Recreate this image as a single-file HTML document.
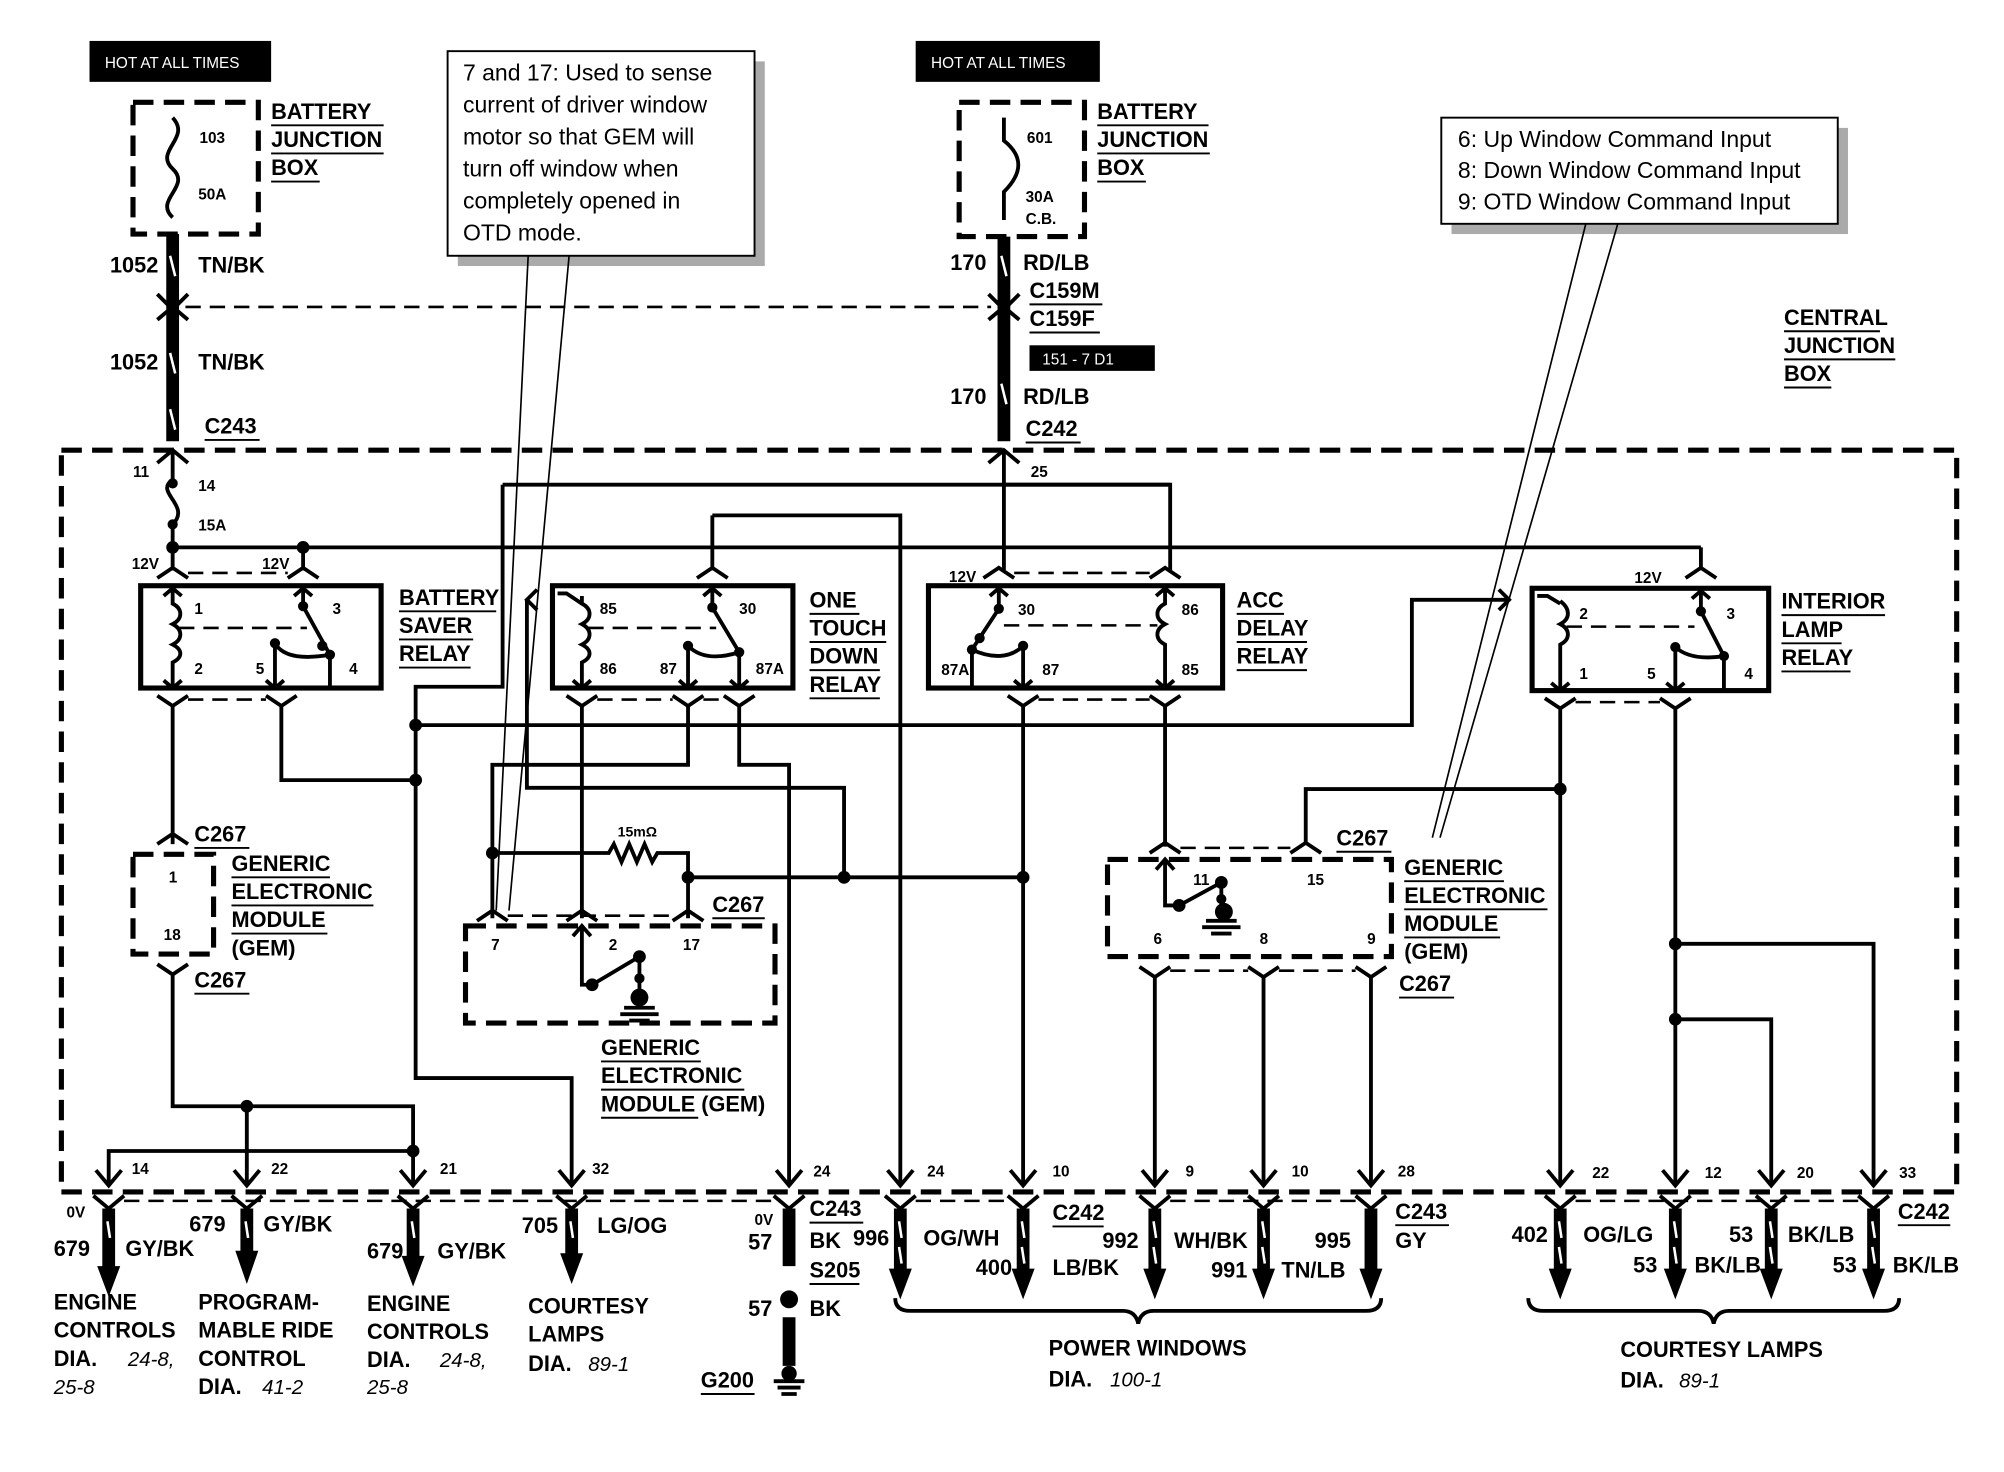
<!DOCTYPE html>
<html><head><meta charset="utf-8"><style>
html,body{margin:0;padding:0;background:#fff}
svg{display:block}
text{font-family:"Liberation Sans",Arial,sans-serif;fill:#000}
.b{font-weight:bold;font-size:17px}
.s{font-weight:bold;font-size:12px}
.n{font-size:18px}
.i{font-style:italic;font-size:16px}
.w{stroke:#000;stroke-width:3;fill:none}
.t{stroke:#000;stroke-width:10;fill:none}
.d{stroke:#000;stroke-width:4;fill:none;stroke-dasharray:16 8}
.dl{stroke:#000;stroke-width:3;fill:none;stroke-dasharray:12 7}
.u{stroke:#000;stroke-width:1.5}
</style></head><body>
<svg width="2004" height="1472" viewBox="0 0 1567 1151" preserveAspectRatio="none" xmlns="http://www.w3.org/2000/svg">
<rect width="1567" height="1151" fill="#fff"/>

<!-- HOT AT ALL TIMES left -->
<rect x="70" y="32" width="142" height="32" fill="#000"/>
<text x="82" y="53" style="font-size:12px;fill:#fff">HOT AT ALL TIMES</text>
<rect x="104" y="80" width="98" height="103" class="d"/>
<path class="w" d="M135,92 C150,108 120,118 135,132 C150,146 120,156 135,170"/>
<text x="156" y="112" class="s">103</text><text x="155" y="156" class="s">50A</text>
<line class="t" x1="135" y1="183" x2="135" y2="345"/>
<path class="w" d="M123,230 L135,242 L147,230 M123,250 L135,240 L147,250"/>
<line stroke="#fff" stroke-width="2" x1="133" y1="200" x2="137" y2="216"/>
<line stroke="#fff" stroke-width="2" x1="133" y1="276" x2="137" y2="292"/>
<line stroke="#fff" stroke-width="2" x1="133" y1="320" x2="137" y2="336"/>
<text x="86" y="213" class="b">1052</text><text x="155" y="213" class="b">TN/BK</text>
<text x="86" y="289" class="b">1052</text><text x="155" y="289" class="b">TN/BK</text>
<text x="160" y="339" class="b">C243</text><line class="u" x1="160" y1="344" x2="203" y2="344"/>
<text x="212" y="93" class="b">BATTERY</text><line class="u" x1="212" y1="98" x2="300" y2="98"/>
<text x="212" y="115" class="b">JUNCTION</text><line class="u" x1="212" y1="120" x2="300" y2="120"/>
<text x="212" y="137" class="b">BOX</text><line class="u" x1="212" y1="142" x2="250" y2="142"/>
<line class="dl" x1="145" y1="240" x2="775" y2="240" style="stroke-width:2"/>

<!-- HOT AT ALL TIMES right -->
<rect x="716" y="32" width="144" height="32" fill="#000"/>
<text x="728" y="53" style="font-size:12px;fill:#fff">HOT AT ALL TIMES</text>
<rect x="750" y="80" width="98" height="105" class="d"/>
<path class="w" d="M785,92 L785,110 C800,122 800,135 785,150 L785,172"/>
<text x="803" y="112" class="s">601</text><text x="802" y="158" class="s">30A</text><text x="802" y="175" class="s">C.B.</text>
<line class="t" x1="785" y1="185" x2="785" y2="345"/>
<path class="w" d="M773,230 L785,242 L797,230 M773,250 L785,240 L797,250"/>
<line stroke="#fff" stroke-width="2" x1="783" y1="200" x2="787" y2="216"/>
<line stroke="#fff" stroke-width="2" x1="783" y1="300" x2="787" y2="316"/>
<text x="743" y="211" class="b">170</text><text x="800" y="211" class="b">RD/LB</text>
<text x="805" y="233" class="b">C159M</text><line class="u" x1="805" y1="238" x2="862" y2="238"/>
<text x="805" y="255" class="b">C159F</text><line class="u" x1="805" y1="260" x2="860" y2="260"/>
<rect x="805" y="270" width="98" height="20" fill="#000"/>
<text x="815" y="285" style="font-size:12px;fill:#fff">151 - 7 D1</text>
<text x="743" y="316" class="b">170</text><text x="800" y="316" class="b">RD/LB</text>
<text x="802" y="341" class="b">C242</text><line class="u" x1="802" y1="346" x2="845" y2="346"/>
<text x="858" y="93" class="b">BATTERY</text><line class="u" x1="858" y1="98" x2="945" y2="98"/>
<text x="858" y="115" class="b">JUNCTION</text><line class="u" x1="858" y1="120" x2="946" y2="120"/>
<text x="858" y="137" class="b">BOX</text><line class="u" x1="858" y1="142" x2="896" y2="142"/>

<!-- callout 1 -->
<rect x="358" y="48" width="240" height="160" fill="#aaa"/>
<rect x="350" y="40" width="240" height="160" fill="#fff" stroke="#000" stroke-width="1.5"/>
<text x="362" y="63" class="n">7 and 17: Used to sense</text>
<text x="362" y="88" class="n">current of driver window</text>
<text x="362" y="113" class="n">motor so that GEM will</text>
<text x="362" y="138" class="n">turn off window when</text>
<text x="362" y="163" class="n">completely opened in</text>
<text x="362" y="188" class="n">OTD mode.</text>
<path d="M413,200 L388,712 M445,200 L398,712" stroke="#000" stroke-width="1.3" fill="none"/>

<!-- callout 2 -->
<rect x="1135" y="100" width="310" height="83" fill="#aaa"/>
<rect x="1127" y="92" width="310" height="83" fill="#fff" stroke="#000" stroke-width="1.5"/>
<text x="1140" y="115" class="n">6: Up Window Command Input</text>
<text x="1140" y="139" class="n">8: Down Window Command Input</text>
<text x="1140" y="164" class="n">9: OTD Window Command Input</text>
<path d="M1240,175 L1120,655 M1265,175 L1126,655" stroke="#000" stroke-width="1.3" fill="none"/>

<!-- central junction box -->
<text x="1395" y="254" class="b">CENTRAL</text><line class="u" x1="1395" y1="259" x2="1470" y2="259"/>
<text x="1395" y="276" class="b">JUNCTION</text><line class="u" x1="1395" y1="281" x2="1482" y2="281"/>
<text x="1395" y="298" class="b">BOX</text><line class="u" x1="1395" y1="303" x2="1432" y2="303"/>
<rect x="48" y="352" width="1482" height="580" class="d"/>

<!-- left fuse & bus -->
<path class="w" d="M123,362 L135,352 L147,362 M135,352 L135,375 C120,385 150,395 135,410 L135,446"/>
<circle cx="135" cy="378" r="4"/><circle cx="135" cy="410" r="4"/>
<text x="104" y="373" class="s">11</text><text x="155" y="384" class="s">14</text><text x="155" y="415" class="s">15A</text>
<line class="w" x1="135" y1="428" x2="1330" y2="428"/>
<circle cx="135" cy="428" r="5"/><circle cx="237" cy="428" r="5"/>
<line class="w" x1="237" y1="428" x2="237" y2="446"/>
<path class="w" d="M123,452 L135,444 L147,452 M225,452 L237,444 L249,452"/>
<line class="dl" x1="147" y1="448" x2="225" y2="448" style="stroke-width:2"/>
<text x="103" y="445" class="s">12V</text><text x="205" y="445" class="s">12V</text>

<!-- battery saver relay -->
<rect x="110" y="458" width="188" height="80" fill="none" stroke="#000" stroke-width="4"/>
<path class="w" d="M135,460 L135,472 C143,476 143,484 135,488 C143,492 143,500 135,504 C143,508 143,514 135,518 L135,538 M128,466 L135,460 L142,466 M128,532 L135,538 L142,532"/>
<line class="dl" x1="140" y1="491" x2="240" y2="491" style="stroke-width:2"/>
<path class="w" d="M237,460 L237,474 L258,512 L258,538 M230,466 L237,460 L244,466 M215,503 C222,515 240,515 258,512 M215,503 L215,538 M208,532 L215,538 L222,532"/>
<circle cx="237" cy="474" r="4"/><circle cx="252" cy="505" r="4"/><circle cx="258" cy="512" r="4"/><circle cx="215" cy="503" r="4"/>
<text x="152" y="480" class="s">1</text><text x="260" y="480" class="s">3</text>
<text x="152" y="527" class="s">2</text><text x="200" y="527" class="s">5</text><text x="273" y="527" class="s">4</text>
<text x="312" y="473" class="b">BATTERY</text><line class="u" x1="312" y1="478" x2="388" y2="478"/>
<text x="312" y="495" class="b">SAVER</text><line class="u" x1="312" y1="500" x2="370" y2="500"/>
<text x="312" y="517" class="b">RELAY</text><line class="u" x1="312" y1="522" x2="368" y2="522"/>
<path class="w" d="M123,544 L135,552 L147,544 M208,544 L220,552 L232,544"/>
<line class="dl" x1="147" y1="547" x2="208" y2="547" style="stroke-width:2"/>
<path class="w" d="M135,552 L135,660 M123,660 L135,652 L147,660 M220,552 L220,610 L325,610"/>
<circle cx="325" cy="610" r="5"/>

<!-- left GEM -->
<rect x="104" y="668" width="63" height="78" class="d"/>
<text x="132" y="690" class="s">1</text><text x="128" y="735" class="s">18</text>
<text x="152" y="658" class="b">C267</text><line class="u" x1="152" y1="663" x2="195" y2="663"/>
<text x="152" y="772" class="b">C267</text><line class="u" x1="152" y1="777" x2="195" y2="777"/>
<text x="181" y="681" class="b">GENERIC</text><line class="u" x1="181" y1="686" x2="258" y2="686"/>
<text x="181" y="703" class="b">ELECTRONIC</text><line class="u" x1="181" y1="708" x2="292" y2="708"/>
<text x="181" y="725" class="b">MODULE</text><line class="u" x1="181" y1="730" x2="256" y2="730"/>
<text x="181" y="747" class="b">(GEM)</text>
<path class="w" d="M123,754 L135,762 L147,754 M135,762 L135,865 L323,865 L323,925 M193,865 L193,925 M85,925 L85,900 L323,900"/>
<circle cx="193" cy="865" r="5"/><circle cx="323" cy="900" r="5"/>

<!-- courtesy wire -->
<path class="w" d="M393,379 L915,379 M393,379 L393,537 L325,537 L325,843 L447,843 L447,925 M325,567 L1104,567 L1104,469 L1180,469"/>
<circle cx="325" cy="567" r="5"/>
<path class="w" d="M1172,461 L1180,469 L1172,477"/>

<!-- one touch down relay -->
<path class="w" d="M557,403 L704,403 L704,925 M557,403 L557,446 M545,452 L557,444 L569,452"/>
<path class="w" d="M420,461 L412,469 L420,477 M412,469 L412,616 L660,616 L660,686 M538,686 L800,686"/>
<circle cx="660" cy="686" r="5"/><circle cx="538" cy="686" r="5"/>
<rect x="432" y="458" width="188" height="80" fill="none" stroke="#000" stroke-width="4"/>
<path class="w" d="M436,464 L443,464 L455,472 M455,466 L455,472 C463,476 463,484 455,488 C463,492 463,500 455,504 C463,508 463,514 455,518 L455,538 M448,532 L455,538 L462,532"/>
<line class="dl" x1="460" y1="491" x2="560" y2="491" style="stroke-width:2"/>
<path class="w" d="M557,460 L557,475 L578,510 L578,538 M550,466 L557,460 L564,466 M538,505 C548,515 562,515 578,510 M538,505 L538,538 M531,532 L538,538 L545,532 M571,532 L578,538 L585,532"/>
<circle cx="557" cy="475" r="4"/><circle cx="578" cy="510" r="4"/><circle cx="538" cy="505" r="4"/>
<text x="469" y="480" class="s">85</text><text x="578" y="480" class="s">30</text>
<text x="469" y="527" class="s">86</text><text x="516" y="527" class="s">87</text><text x="591" y="527" class="s">87A</text>
<text x="633" y="475" class="b">ONE</text><line class="u" x1="633" y1="480" x2="672" y2="480"/>
<text x="633" y="497" class="b">TOUCH</text><line class="u" x1="633" y1="502" x2="693" y2="502"/>
<text x="633" y="519" class="b">DOWN</text><line class="u" x1="633" y1="524" x2="688" y2="524"/>
<text x="633" y="541" class="b">RELAY</text><line class="u" x1="633" y1="546" x2="688" y2="546"/>
<path class="w" d="M443,544 L455,552 L467,544 M526,544 L538,552 L550,544 M566,544 L578,552 L590,544"/>
<line class="dl" x1="467" y1="547" x2="526" y2="547" style="stroke-width:2"/>
<line class="dl" x1="550" y1="547" x2="566" y2="547" style="stroke-width:2"/>
<path class="w" d="M455,552 L455,718 M538,552 L538,598 L385,598 L385,718 M578,552 L578,598 L617,598 L617,925"/>
<path class="w" d="M385,667 L476,667 L480,660 L486,674 L492,660 L498,674 L504,660 L510,674 L514,667 L538,667 L538,718"/>
<circle cx="385" cy="667" r="5"/>
<text x="483" y="654" style="font-weight:bold;font-size:11px">15mΩ</text>

<!-- middle GEM -->
<path class="w" d="M373,720 L385,712 L397,720 M443,720 L455,712 L467,720 M526,720 L538,712 L550,720"/>
<line class="dl" x1="397" y1="716" x2="526" y2="716" style="stroke-width:2"/>
<rect x="364" y="724" width="242" height="76" class="d"/>
<text x="384" y="743" class="s">7</text><text x="476" y="743" class="s">2</text><text x="534" y="743" class="s">17</text>
<path class="w" d="M448,732 L455,724 L462,732 M455,724 L455,770 L463,770 L500,748 L500,778 M488,788 L512,788 M485,793 L515,793 M492,798 L508,798"/>
<circle cx="463" cy="770" r="5"/><circle cx="500" cy="748" r="5"/><circle cx="500" cy="765" r="4"/><circle cx="500" cy="780" r="7"/>
<text x="557" y="713" class="b">C267</text><line class="u" x1="557" y1="718" x2="598" y2="718"/>
<text x="470" y="825" class="b">GENERIC</text><line class="u" x1="470" y1="830" x2="548" y2="830"/>
<text x="470" y="847" class="b">ELECTRONIC</text><line class="u" x1="470" y1="852" x2="582" y2="852"/>
<text x="470" y="869" class="b">MODULE (GEM)</text><line class="u" x1="470" y1="874" x2="546" y2="874"/>

<!-- ACC delay relay -->
<path class="w" d="M785,352 L785,446 M773,362 L785,352 L797,362 M785,379 L915,379 L915,446"/>
<text x="806" y="373" class="s">25</text>
<path class="w" d="M769,452 L781,444 L793,452 M899,452 L911,444 L923,452"/>
<line class="dl" x1="793" y1="448" x2="899" y2="448" style="stroke-width:2"/>
<text x="742" y="455" class="s">12V</text>
<rect x="726" y="458" width="230" height="80" fill="none" stroke="#000" stroke-width="4"/>
<path class="w" d="M781,460 L781,476 L760,508 L760,538 M774,466 L781,460 L788,466 M760,508 C775,515 790,515 800,505 M800,505 L800,538 M793,532 L800,538 L807,532"/>
<circle cx="781" cy="476" r="4"/><circle cx="766" cy="499" r="4"/><circle cx="760" cy="508" r="4"/><circle cx="800" cy="505" r="4"/>
<line class="dl" x1="785" y1="489" x2="905" y2="489" style="stroke-width:2"/>
<path class="w" d="M911,460 L911,472 C903,476 903,484 911,488 C903,492 903,500 911,504 L911,538 M904,466 L911,460 L918,466 M904,532 L911,538 L918,532"/>
<text x="796" y="481" class="s">30</text><text x="924" y="481" class="s">86</text>
<text x="736" y="528" class="s">87A</text><text x="815" y="528" class="s">87</text><text x="924" y="528" class="s">85</text>
<text x="967" y="475" class="b">ACC</text><line class="u" x1="967" y1="480" x2="1004" y2="480"/>
<text x="967" y="497" class="b">DELAY</text><line class="u" x1="967" y1="502" x2="1022" y2="502"/>
<text x="967" y="519" class="b">RELAY</text><line class="u" x1="967" y1="524" x2="1022" y2="524"/>
<path class="w" d="M788,544 L800,552 L812,544 M899,544 L911,552 L923,544"/>
<line class="dl" x1="812" y1="547" x2="899" y2="547" style="stroke-width:2"/>
<path class="w" d="M800,552 L800,925 M911,552 L911,662"/>
<circle cx="800" cy="686" r="5"/>

<!-- right GEM -->
<path class="w" d="M899,667 L911,659 L923,667 M1009,667 L1021,659 L1033,667 M1021,659 L1021,617 L1220,617"/>
<line class="dl" x1="923" y1="663" x2="1009" y2="663" style="stroke-width:2"/>
<circle cx="1220" cy="617" r="5"/>
<rect x="866" y="672" width="222" height="76" class="d"/>
<path class="w" d="M904,680 L911,672 L918,680 M911,672 L911,708 L922,708 L955,690 L955,712 M943,720 L967,720 M940,725 L970,725 M947,730 L963,730"/>
<circle cx="922" cy="708" r="5"/><circle cx="955" cy="690" r="5"/><circle cx="955" cy="703" r="4"/><circle cx="957" cy="713" r="7"/>
<text x="933" y="692" class="s">11</text><text x="1022" y="692" class="s">15</text>
<text x="902" y="738" class="s">6</text><text x="985" y="738" class="s">8</text><text x="1069" y="738" class="s">9</text>
<text x="1045" y="661" class="b">C267</text><line class="u" x1="1045" y1="666" x2="1088" y2="666"/>
<text x="1098" y="684" class="b">GENERIC</text><line class="u" x1="1098" y1="689" x2="1176" y2="689"/>
<text x="1098" y="706" class="b">ELECTRONIC</text><line class="u" x1="1098" y1="711" x2="1210" y2="711"/>
<text x="1098" y="728" class="b">MODULE</text><line class="u" x1="1098" y1="733" x2="1173" y2="733"/>
<text x="1098" y="750" class="b">(GEM)</text>
<text x="1094" y="775" class="b">C267</text><line class="u" x1="1094" y1="780" x2="1137" y2="780"/>
<path class="w" d="M891,756 L903,764 L915,756 M976,756 L988,764 L1000,756 M1060,756 L1072,764 L1084,756 M903,764 L903,925 M988,764 L988,925 M1072,764 L1072,925"/>
<line class="dl" x1="915" y1="759" x2="976" y2="759" style="stroke-width:2"/>
<line class="dl" x1="1000" y1="759" x2="1060" y2="759" style="stroke-width:2"/>

<!-- interior lamp relay -->
<path class="w" d="M1330,428 L1330,446 M1318,452 L1330,444 L1342,452"/>
<text x="1278" y="456" class="s">12V</text>
<rect x="1198" y="460" width="185" height="80" fill="none" stroke="#000" stroke-width="4"/>
<path class="w" d="M1202,466 L1210,466 L1220,472 M1220,470 C1228,476 1228,484 1220,488 C1228,492 1228,500 1220,504 L1220,540 M1213,534 L1220,540 L1227,534"/>
<line class="dl" x1="1225" y1="490" x2="1325" y2="490" style="stroke-width:2"/>
<path class="w" d="M1330,462 L1330,478 L1348,513 L1348,540 M1323,468 L1330,462 L1337,468 M1310,506 C1320,515 1335,515 1348,513 M1310,506 L1310,540 M1303,534 L1310,540 L1317,534"/>
<circle cx="1330" cy="478" r="4"/><circle cx="1348" cy="513" r="4"/><circle cx="1310" cy="506" r="4"/>
<text x="1235" y="484" class="s">2</text><text x="1350" y="484" class="s">3</text>
<text x="1235" y="531" class="s">1</text><text x="1288" y="531" class="s">5</text><text x="1364" y="531" class="s">4</text>
<text x="1393" y="476" class="b">INTERIOR</text><line class="u" x1="1393" y1="481" x2="1474" y2="481"/>
<text x="1393" y="498" class="b">LAMP</text><line class="u" x1="1393" y1="503" x2="1440" y2="503"/>
<text x="1393" y="520" class="b">RELAY</text><line class="u" x1="1393" y1="525" x2="1447" y2="525"/>
<path class="w" d="M1208,546 L1220,554 L1232,546 M1298,546 L1310,554 L1322,546 M1220,554 L1220,925 M1310,554 L1310,925 M1310,738 L1465,738 L1465,925 M1310,797 L1385,797 L1385,925"/>
<line class="dl" x1="1232" y1="549" x2="1298" y2="549" style="stroke-width:2"/>
<circle cx="1310" cy="738" r="5"/><circle cx="1310" cy="797" r="5"/>

<!-- bottom connector arrowheads -->
<g class="w">
<path d="M75,915 L85,927 L95,915 M183,915 L193,927 L203,915 M313,915 L323,927 L333,915 M437,915 L447,927 L457,915 M607,915 L617,927 L627,915 M694,915 L704,927 L714,915 M790,915 L800,927 L810,915 M893,915 L903,927 L913,915 M978,915 L988,927 L998,915 M1062,915 L1072,927 L1082,915 M1210,915 L1220,927 L1230,915 M1300,915 L1310,927 L1320,915 M1375,915 L1385,927 L1395,915 M1455,915 L1465,927 L1475,915"/>
</g>
<g class="s">
<text x="103" y="918">14</text><text x="212" y="918">22</text><text x="344" y="918">21</text><text x="463" y="918">32</text><text x="636" y="920">24</text>
<text x="725" y="920">24</text><text x="823" y="920">10</text><text x="927" y="920">9</text><text x="1010" y="920">10</text><text x="1093" y="920">28</text>
<text x="1245" y="921">22</text><text x="1333" y="921">12</text><text x="1405" y="921">20</text><text x="1485" y="921">33</text>
</g>

<!-- lower connector row -->
<g class="w">
<path d="M73,935 L85,945 L97,935 M181,935 L193,945 L205,935 M311,935 L323,945 L335,935 M435,935 L447,945 L459,935 M605,935 L617,945 L629,935 M692,935 L704,945 L716,935 M788,935 L800,945 L812,935 M891,935 L903,945 L915,935 M976,935 L988,945 L1000,935 M1060,935 L1072,945 L1084,935 M1208,935 L1220,945 L1232,935 M1298,935 L1310,945 L1322,935 M1373,935 L1385,945 L1397,935 M1453,935 L1465,945 L1477,935"/>
</g>
<line class="dl" x1="97" y1="939" x2="605" y2="939" style="stroke-width:2"/>
<line class="dl" x1="716" y1="939" x2="788" y2="939" style="stroke-width:2"/>
<line class="dl" x1="915" y1="939" x2="1060" y2="939" style="stroke-width:2"/>
<line class="dl" x1="1232" y1="939" x2="1453" y2="939" style="stroke-width:2"/>

<g class="t">
<path d="M85,945 L85,992 M193,945 L193,980 M323,945 L323,985 M447,945 L447,983 M617,945 L617,990 M617,1030 L617,1068 M704,945 L704,995 M800,945 L800,995 M903,945 L903,995 M988,945 L988,995 M1072,945 L1072,995 M1220,945 L1220,995 M1310,945 L1310,995 M1385,945 L1385,995 M1465,945 L1465,995"/>
</g>
<g fill="#000">
<path d="M76,990 L94,990 L85,1014Z M184,978 L202,978 L193,1004Z M314,982 L332,982 L323,1006Z M438,980 L456,980 L447,1004Z"/>
<path d="M695,992 L713,992 L704,1016Z M791,992 L809,992 L800,1016Z M894,992 L912,992 L903,1016Z M979,992 L997,992 L988,1016Z M1063,992 L1081,992 L1072,1016Z"/>
<path d="M1211,992 L1229,992 L1220,1016Z M1301,992 L1319,992 L1310,1016Z M1376,992 L1394,992 L1385,1016Z M1456,992 L1474,992 L1465,1016Z"/>
<circle cx="617" cy="1016" r="7"/>
<circle cx="617" cy="1074" r="6"/>
</g>
<path d="M605,1080 L629,1080 M608,1085 L626,1085 M611,1090 L623,1090" stroke="#000" stroke-width="3"/>
<g stroke="#fff" stroke-width="2">
<path d="M84,955 L86,968 M192,955 L194,968 M322,955 L324,968 M446,955 L448,968 M703,955 L705,968 M703,975 L705,988 M799,955 L801,968 M799,975 L801,988 M902,955 L904,968 M902,975 L904,988 M987,955 L989,968 M987,975 L989,988 M1219,955 L1221,968 M1219,975 L1221,988 M1309,955 L1311,968 M1309,975 L1311,988 M1384,955 L1386,968 M1384,975 L1386,988 M1464,955 L1466,968 M1464,975 L1466,988"/>
</g>

<!-- braces -->
<path class="w" d="M700,1015 Q700,1025 712,1025 L878,1025 Q888,1025 890,1035 Q892,1025 902,1025 L1068,1025 Q1080,1025 1080,1015"/>
<path class="w" d="M1195,1015 Q1195,1025 1207,1025 L1328,1025 Q1338,1025 1340,1035 Q1342,1025 1352,1025 L1473,1025 Q1485,1025 1485,1015"/>

<!-- wire labels bottom -->
<g class="b">
<text x="52" y="952" class="s">0V</text>
<text x="42" y="982">679</text><text x="98" y="982">GY/BK</text>
<text x="148" y="963">679</text><text x="206" y="963">GY/BK</text>
<text x="287" y="984">679</text><text x="342" y="984">GY/BK</text>
<text x="408" y="964">705</text><text x="467" y="964">LG/OG</text>
<text x="633" y="951">C243</text>
<text x="633" y="976">BK</text><text x="667" y="974">996</text>
<text x="633" y="999">S205</text>
<text x="585" y="977">57</text><text x="585" y="1029">57</text><text x="633" y="1029">BK</text>
<text x="548" y="1085">G200</text>
<text x="722" y="974">OG/WH</text><text x="763" y="997">400</text><text x="823" y="954">C242</text>
<text x="862" y="976">992</text><text x="823" y="997">LB/BK</text>
<text x="918" y="976">WH/BK</text><text x="947" y="999">991</text><text x="1028" y="976">995</text><text x="1002" y="999">TN/LB</text>
<text x="1091" y="953">C243</text><text x="1091" y="976">GY</text>
<text x="1182" y="971">402</text><text x="1238" y="971">OG/LG</text>
<text x="1277" y="995">53</text><text x="1325" y="995">BK/LB</text>
<text x="1352" y="971">53</text><text x="1398" y="971">BK/LB</text>
<text x="1433" y="995">53</text><text x="1480" y="995">BK/LB</text>
<text x="1484" y="953">C242</text>
</g>
<text x="590" y="958" class="s">0V</text>
<g class="u"><path d="M633,956 L675,956 M633,1004 L672,1004 M548,1090 L590,1090 M823,959 L863,959 M1091,958 L1133,958 M1484,958 L1525,958"/></g>

<g class="b">
<text x="42" y="1024">ENGINE</text><text x="42" y="1046">CONTROLS</text><text x="42" y="1068">DIA.</text>
<text x="155" y="1024">PROGRAM-</text><text x="155" y="1046">MABLE RIDE</text><text x="155" y="1068">CONTROL</text><text x="155" y="1090">DIA.</text>
<text x="287" y="1025">ENGINE</text><text x="287" y="1047">CONTROLS</text><text x="287" y="1069">DIA.</text>
<text x="413" y="1027">COURTESY</text><text x="413" y="1049">LAMPS</text><text x="413" y="1072">DIA.</text>
<text x="820" y="1060">POWER WINDOWS</text><text x="820" y="1084">DIA.</text>
<text x="1267" y="1061">COURTESY LAMPS</text><text x="1267" y="1085">DIA.</text>
</g>
<g class="i">
<text x="100" y="1068">24-8,</text><text x="42" y="1090">25-8</text>
<text x="205" y="1090">41-2</text>
<text x="344" y="1069">24-8,</text><text x="287" y="1090">25-8</text>
<text x="460" y="1072">89-1</text>
<text x="868" y="1084">100-1</text>
<text x="1313" y="1085">89-1</text>
</g>
</svg>
</body></html>
